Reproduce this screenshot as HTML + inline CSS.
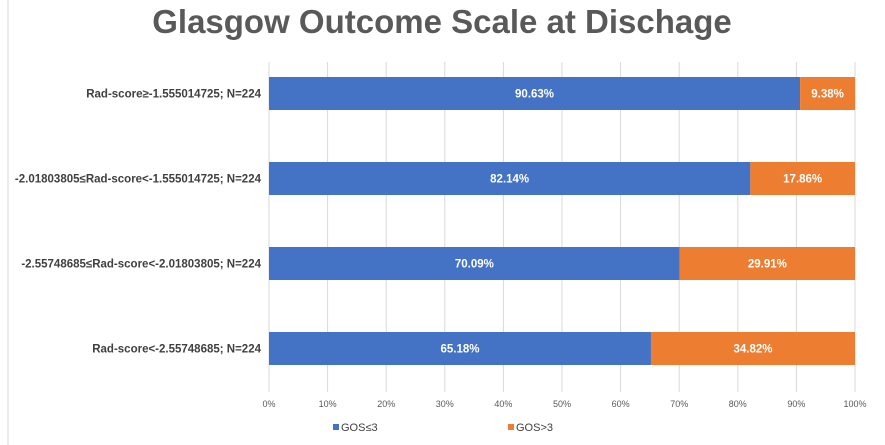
<!DOCTYPE html>
<html><head><meta charset="utf-8"><style>
body{margin:0;background:#fff;font-family:"Liberation Sans",sans-serif;}
#wrap{position:relative;width:885px;height:445px;overflow:hidden;}
</style></head><body>
<div id="wrap">
<svg id="chart" width="885" height="445"></svg>
</div>
<script>
const categories=["Rad-score≥-1.555014725; N=224","-2.01803805≤Rad-score<-1.555014725; N=224","-2.55748685≤Rad-score<-2.01803805; N=224","Rad-score<-2.55748685; N=224"];
const gosLow=[90.63,82.14,70.09,65.18];
const gosHigh=[9.38,17.86,29.91,34.82];
const ticks=[0,10,20,30,40,50,60,70,80,90,100];
const NS="http://www.w3.org/2000/svg";
const svg=document.getElementById('chart');
function mk(t,a,p){const e=document.createElementNS(NS,t);for(const k in a)e.setAttribute(k,a[k]);(p||svg).appendChild(e);return e;}
const x0=269,x1=855;
const xs=v=>x0+(x1-x0)*v/100;
const yc=i=>93.5+i*85;
const bh=33;
mk('line',{x1:8,y1:0,x2:8,y2:445,stroke:'#d9d9d9','stroke-width':1});
let t=mk('text',{x:442,y:33,'text-anchor':'middle','font-size':33,'font-weight':'bold',fill:'#595959'});
t.textContent='Glasgow Outcome Scale at Dischage';


ticks.forEach(v=>{
 const g=mk('line',{x1:xs(v),y1:62,x2:xs(v),y2:392,stroke:'#d9d9d9','stroke-width':1});
 
 
 const l=mk('text',{x:xs(v),y:407,'text-anchor':'middle','font-size':9,fill:'#595959'});
 l.textContent=v+'%';
 
 
});
categories.forEach((c,i)=>{
 const y=yc(i);
 const lab=mk('text',{x:261,y:y+4,'text-anchor':'end','font-size':11.5,'font-weight':'bold',fill:'#404040'});
 lab.textContent=c;
 
 
 const b1=mk('rect',{x:xs(0),y:y-bh/2,width:xs(gosLow[i])-xs(0),height:bh,fill:'#4472c4'});
 
 
 const b2=mk('rect',{x:xs(gosLow[i]),y:y-bh/2,width:xs(gosLow[i]+gosHigh[i])-xs(gosLow[i]),height:bh,fill:'#ed7d31'});
 
 
 const v1=mk('text',{x:(xs(0)+xs(gosLow[i]))/2,y:y+4,'text-anchor':'middle','font-size':11.5,'font-weight':'bold',fill:'#fff'});
 v1.textContent=gosLow[i].toFixed(2)+'%';
 
 
 const v2=mk('text',{x:(xs(gosLow[i])+xs(gosLow[i]+gosHigh[i]))/2,y:y+4,'text-anchor':'middle','font-size':11.5,'font-weight':'bold',fill:'#fff'});
 v2.textContent=gosHigh[i].toFixed(2)+'%';
 
 
});
const leg=[["GOS≤3","#4472c4",333],["GOS>3","#ed7d31",508]];
leg.forEach(l=>{
 const s=mk('rect',{x:l[2],y:424,width:6,height:6,fill:l[1]});
 
 
 const tx=mk('text',{x:l[2]+8,y:431,'font-size':11,fill:'#404040'});
 tx.textContent=l[0];
 
 
});
</script>
</body></html>
